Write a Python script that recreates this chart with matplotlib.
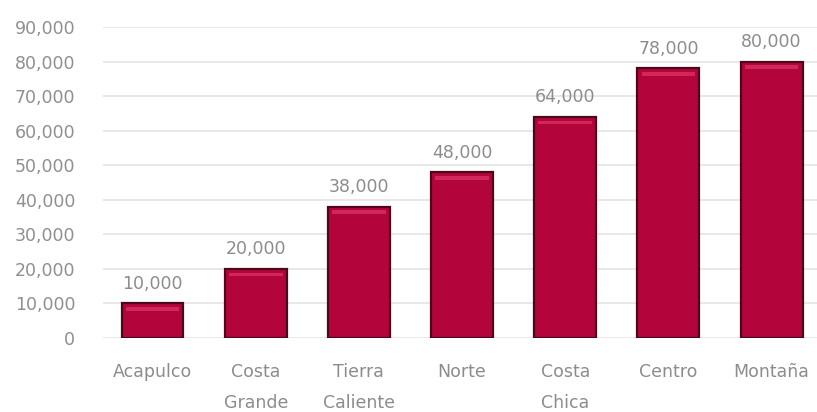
import matplotlib
matplotlib.use("Agg")
import matplotlib.pyplot as plt
import numpy as np

categories = ["Acapulco", "Costa\nGrande", "Tierra\nCaliente", "Norte", "Costa\nChica", "Centro", "Montaña"]
values = [10000, 20000, 38000, 48000, 64000, 78000, 80000]
yticks = [0, 10000, 20000, 30000, 40000, 50000, 60000, 70000, 80000, 90000]

plt.rcParams['font.family'] = ['DejaVu Sans']
fig = plt.figure(figsize=(8.17, 4.12), dpi=100)
ax = fig.add_axes([103/817, (412-338)/412, 714/817, (338-27)/412])

x = np.arange(len(categories))
ax.bar(x, values, width=0.6, color="#B3053C", edgecolor="#4E0619", linewidth=1.6, zorder=3)
# bevel highlight near the top
ax.bar(x, [1100] * len(values), width=0.52, bottom=[v - 2200 for v in values],
       color="#DC3366", linewidth=0, zorder=4, alpha=0.75)

for xi, v in zip(x, values):
    ax.annotate(f"{v:,}", (xi, v), xytext=(0, 7.5), textcoords="offset points",
                ha="center", va="bottom", fontsize=12.5, color="#8c8c8c")

ax.set_ylim(0, 90000)
ax.set_xlim(-0.48, 6.44)
ax.set_yticks(yticks)
ax.set_yticklabels([f"{t:,}" for t in yticks], fontsize=12.5, color="#8f8f8f")
ax.set_xticks(x)
ax.set_xticklabels(categories, fontsize=12.5, color="#8c8c8c", linespacing=1.95, va="top")
ax.tick_params(axis="both", length=0)
ax.tick_params(axis="y", pad=20)
ax.tick_params(axis="x", pad=18)
ax.grid(axis="y", color="#e4e4e4", linewidth=1.2, zorder=0)
for s in ax.spines.values():
    s.set_visible(False)

fig.savefig("out.png", dpi=100)
